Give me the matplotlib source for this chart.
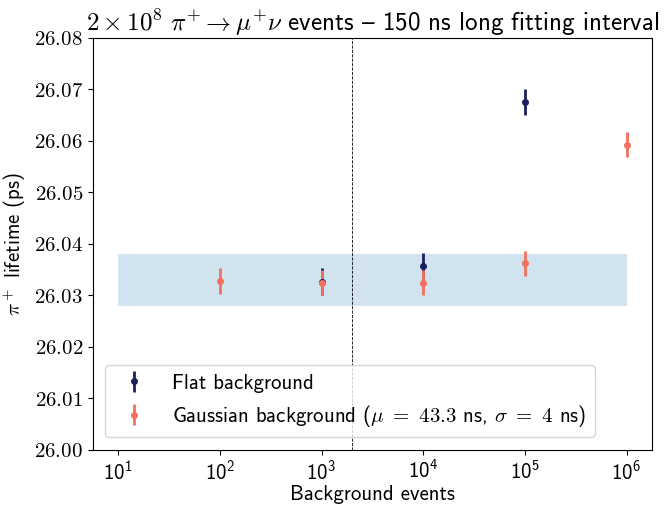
import numpy as np
from matplotlib import pyplot as plt
from matplotlib.ticker import FormatStrFormatter

# Font Computer Modern (sans per il testo, serif per la matematica)
plt.rcParams['font.family'] = ['cmss10', 'DejaVu Sans']
plt.rcParams['mathtext.fontset'] = 'cm'
plt.rcParams['axes.unicode_minus'] = False
plt.rcParams['axes.formatter.use_mathtext'] = True

# Eventi di fondo e vita media stimata (ps)
flat_bkg = np.array([1e3, 1e4, 1e5])
flat_tau = np.array([26.0327, 26.0358, 26.0676])
flat_err = np.array([0.0026, 0.0025, 0.0025])

gauss_bkg = np.array([1e2, 1e3, 1e4, 1e5, 1e6])
gauss_tau = np.array([26.0328, 26.0325, 26.0325, 26.0362, 26.0593])
gauss_err = np.array([0.0025, 0.0025, 0.0025, 0.0025, 0.0025])

# Banda di riferimento e soglia
band_x = [1e1, 1e6]
band_low = 26.028
band_high = 26.038
soglia = 2000

fig = plt.figure(figsize=(6.67, 5.05), dpi=100)
ax = fig.add_axes([0.139, 0.109, 0.8385, 0.816])

ax.fill_between(band_x, band_low, band_high, color='C0', alpha=0.2, linewidth=0)
ax.axvline(soglia, color='k', linestyle='--', linewidth=0.6)

ax.errorbar(flat_bkg, flat_tau, yerr=flat_err, fmt='o', color='#1c1f5c',
            markersize=4, elinewidth=2, label='Flat background')
ax.errorbar(gauss_bkg, gauss_tau, yerr=gauss_err, fmt='o', color='#f4705e',
            markersize=4, elinewidth=2,
            label=r'Gaussian background ($\mu\ =\ 43.3$ ns, $\sigma\ =\ 4$ ns)')

ax.set_xscale('log')
ax.set_ylim(26.00, 26.08)
ax.set_yticks(np.arange(26.00, 26.081, 0.01))
ax.yaxis.set_major_formatter(FormatStrFormatter(r'$%.2f$'))
ax.tick_params(labelsize=15)
ax.minorticks_off()

ax.set_xlabel('Background events', fontsize=15, labelpad=1)
ax.set_ylabel(r'$\pi^+$ lifetime (ps)', fontsize=15)
# nel font cmss10 (codifica TeX) il trattino lungo sta al posto di '{'
ax.set_title(r'$2\times10^8\ \pi^{\!+}\! \rightarrow \mu^{\!+}\!\nu$ events { 150 ns long fitting interval',
             fontsize=18, pad=5)
ax.legend(loc='lower left', fontsize=15, borderaxespad=0.6)

plt.savefig('out.png', dpi=100)
plt.close()
